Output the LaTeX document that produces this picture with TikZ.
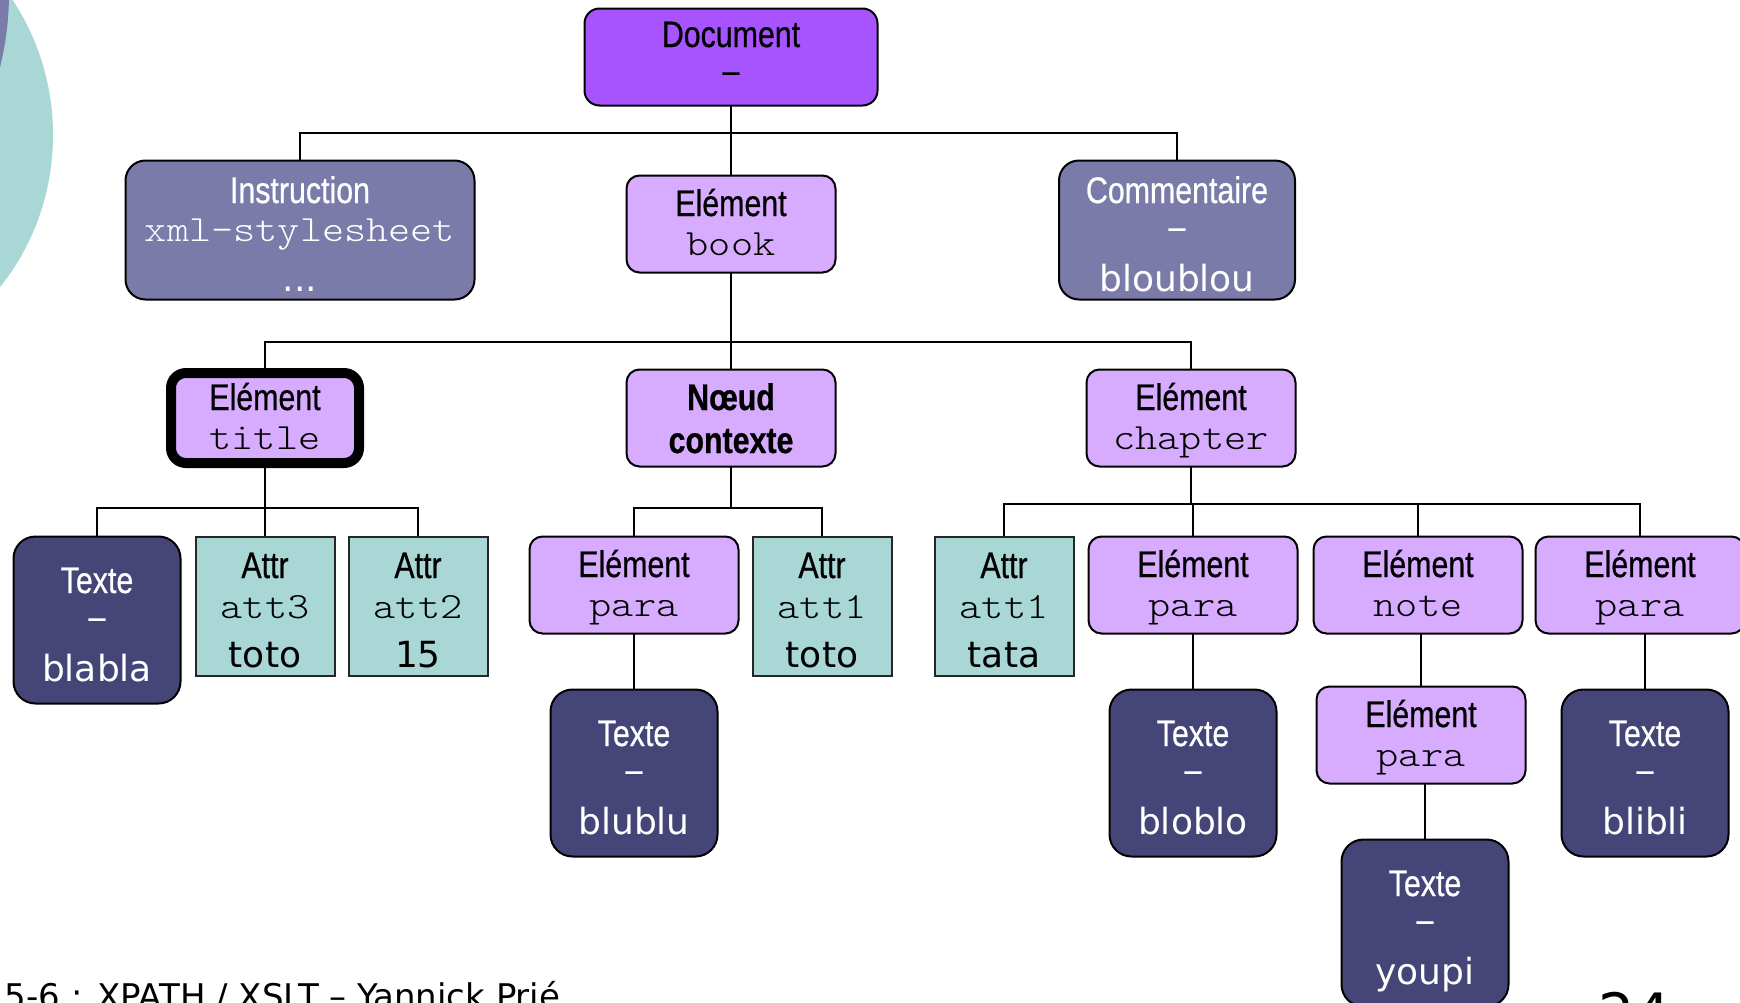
\documentclass[tikz,border=0pt]{standalone}
\usepackage{fontspec}
\setmainfont{DejaVu Sans}
\newfontfamily\narrowfont[FakeStretch=0.82, FakeBold=0.6]{Liberation Sans}
\newfontfamily\monofont[FakeStretch=1.14]{lmmonolt10-regular.otf}
\newfontfamily\verdfont{DejaVu Sans}

\definecolor{docpurple}{HTML}{A754FE}
\definecolor{elempurple}{HTML}{D7ABFE}
\definecolor{slatebl}{HTML}{7A7BA8}
\definecolor{navybl}{HTML}{454577}
\definecolor{attrteal}{HTML}{A8D7D6}

\tikzset{
  box/.style={draw=black, line width=2pt, inner sep=0pt, outer sep=0pt},
  elembox/.style={box, fill=elempurple, rounded corners=13pt,
    minimum width=209pt, minimum height=97pt},
  docbox/.style={box, fill=docpurple, rounded corners=15pt,
    minimum width=293pt, minimum height=97pt},
  slatebox/.style={box, fill=slatebl, rounded corners=20pt, minimum height=139pt},
  textebox/.style={box, fill=navybl, rounded corners=22pt,
    minimum width=167pt, minimum height=167pt},
  attrbox/.style={draw=black!85, line width=2pt, fill=attrteal, inner sep=0pt,
    minimum width=139pt, minimum height=139pt},
  current/.style={line width=10pt, rounded corners=15pt,
    minimum width=188pt, minimum height=90pt},
  txt/.style={inner sep=0pt, outer sep=0pt, anchor=base},
  kind/.style={txt, font=\fontsize{37}{37}\narrowfont},
  kindbold/.style={txt, font=\fontsize{37}{37}\narrowfont\bfseries},
  code/.style={txt, font=\fontsize{37}{37}\monofont},
  val/.style={txt, font=\fontsize{36}{36}\verdfont},
  link/.style={line width=2pt},
}

% Element box: kind label on top, element name in monospace below
\newcommand\ElemNode[4][]{%
  \node[elembox,#1] (#2) at (#3) {};
  \node[kind] (#2-k) at ([yshift=8pt]#2.center) {Elément};
  \node[code] (#2-n) at ([yshift=-31pt]#2.center) {#4};
}
% Text node: "Texte", dash, value
\newcommand\TexteNode[3]{%
  \node[textebox] (#1) at (#2) {};
  \node[kind, text=white] (#1-k) at ([yshift=27pt]#1.center) {Texte};
  \node[kind, text=white] (#1-d) at ([yshift=-9pt]#1.center) {–};
  \node[val, text=white] (#1-v) at ([yshift=-61pt]#1.center) {#3};
}
% Attribute node: "Attr", name, value
\newcommand\AttrNode[4]{%
  \node[attrbox] (#1) at (#2) {};
  \node[kind] (#1-k) at ([yshift=28pt]#1.center) {Attr};
  \node[code] (#1-n) at ([yshift=-12pt]#1.center) {#3};
  \node[val] (#1-v) at ([yshift=-61pt]#1.center) {#4};
}
% Orthogonal connector from a parent down to a bus line, then to a child
\newcommand\branch[3]{%
  \draw[link] (#1.south) |- (#3.north |- #2) -- (#3.north);
}
% Straight vertical connector, dropped at the child's axis
\newcommand\drop[2]{%
  \draw[link] (#1.south -| #2.north) -- (#2.north);
}

\begin{document}
\begin{tikzpicture}[x=1pt, y=-1pt]
\useasboundingbox (0,0) rectangle (1740,1002);
\clip (0,0) rectangle (1740,1002);

% decorative discs at the left edge
\fill[attrteal] (-170,135) ellipse [x radius=223, y radius=235];
\fill[slatebl] (-300,-7) circle [radius=309];

% bus lines
\coordinate (bus1) at (0,133);
\coordinate (bus2) at (0,342);
\coordinate (bus3) at (0,508);
\coordinate (bus4) at (0,508);
\coordinate (bus5) at (0,504);

% level 0
\node[docbox] (doc) at (731,57) {};
\node[kind] (doc-k) at ([yshift=10pt]doc.center) {Document};
\node[kind] (doc-d) at ([yshift=-26pt]doc.center) {–};

% level 1
\node[slatebox, minimum width=349pt] (instr) at (300,230) {};
\node[kind, text=white] (instr-k) at ([yshift=27pt]instr.center) {Instruction};
\node[code, text=white] (instr-n) at ([yshift=-11pt]instr.center) {xml-stylesheet};
\node[val, text=white] (instr-v) at ([yshift=-61pt]instr.center) {...};

\ElemNode{book}{731,224}{book}

\node[slatebox, minimum width=236pt] (comment) at (1177,230) {};
\node[kind, text=white] (comment-k) at ([yshift=27pt]comment.center) {Commentaire};
\node[kind, text=white] (comment-d) at ([yshift=-9pt]comment.center) {–};
\node[val, text=white] (comment-v) at ([yshift=-61pt]comment.center) {bloublou};

% level 2
\ElemNode[current]{title}{265,418}{title}

\node[elembox] (ctx) at (731,418) {};
\node[kindbold] (ctx-a) at ([yshift=8pt]ctx.center) {Nœud};
\node[kindbold] (ctx-b) at ([yshift=-35pt]ctx.center) {contexte};

\ElemNode{chapter}{1191,418}{chapter}

% children of title
\TexteNode{blabla}{97,620}{blabla}
\AttrNode{att3}{265,606}{att3}{toto}
\AttrNode{att2}{418,606}{att2}{15}

% children of the context node
\ElemNode{para1}{634,585}{para}
\AttrNode{att1a}{822,606}{att1}{toto}
\TexteNode{blublu}{634,773}{blublu}

% children of chapter
\AttrNode{att1b}{1004,606}{att1}{tata}
\ElemNode{para2}{1193,585}{para}
\ElemNode{note}{1418,585}{note}
\ElemNode{para3}{1640,585}{para}
\TexteNode{bloblo}{1193,773}{bloblo}
\ElemNode{para4}{1421,735}{para}
\TexteNode{blibli}{1645,773}{blibli}
\TexteNode{youpi}{1425,923}{youpi}

% connectors
\branch{doc}{bus1}{instr}
\branch{doc}{bus1}{book}
\branch{doc}{bus1}{comment}
\branch{book}{bus2}{title}
\branch{book}{bus2}{ctx}
\branch{book}{bus2}{chapter}
\branch{title}{bus3}{blabla}
\branch{title}{bus3}{att3}
\branch{title}{bus3}{att2}
\branch{ctx}{bus4}{para1}
\branch{ctx}{bus4}{att1a}
\branch{chapter}{bus5}{att1b}
\branch{chapter}{bus5}{para2}
\branch{chapter}{bus5}{note}
\branch{chapter}{bus5}{para3}
\drop{para1}{blublu}
\drop{para2}{bloblo}
\drop{note}{para4}
\drop{para4}{youpi}
\drop{para3}{blibli}

% footer
\node[txt, anchor=base west, font=\fontsize{34}{34}\verdfont] (footer) at (5,1008)
  {5-6 : XPATH / XSLT – Yannick Prié};
\node[txt, anchor=base west, font=\fontsize{57}{57}\verdfont] (pagenum) at (1598,1034) {24};
\end{tikzpicture}
\end{document}
